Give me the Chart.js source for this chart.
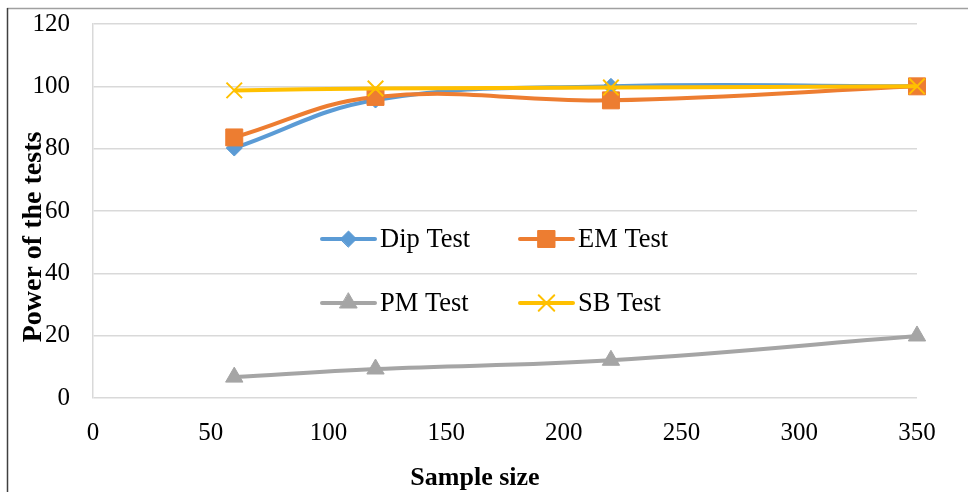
<!DOCTYPE html>
<html>
<head>
<meta charset="utf-8">
<script src="https://cdn.jsdelivr.net/npm/chart.js@4.4.1/dist/chart.umd.min.js"></script>
<style>
html,body{margin:0;padding:0;background:#fff;}
#wrap{width:968px;height:492px;position:relative;}
</style>
</head>
<body>
<div id="wrap"><canvas id="c" width="968" height="492"></canvas></div>
<script>
// ---- data ----
const sampleSizes = [60, 120, 220, 350];
const dipTest = [80.2, 95.6, 100, 100];
const emTest  = [83.6, 96.6, 95.5, 100];
const pmTest  = [6.7, 9.3, 12.1, 19.9];
const sbTest  = [98.7, 99.3, 99.6, 100];
const seriesNames = ['Dip Test', 'EM Test', 'PM Test', 'SB Test'];
const xTicks = [0, 50, 100, 150, 200, 250, 300, 350];
const yTicks = [0, 20, 40, 60, 80, 100, 120];
const xTitle = 'Sample size';
const yTitle = 'Power of the tests';

const colors = ['#5B9BD5', '#ED7D31', '#A5A5A5', '#FFC000'];
const styles = ['rectRot', 'rect', 'triangle', 'crossRot'];
const radii = [8, 12, 10, 11];

function pts(vals){ return sampleSizes.map((x,i)=>({x:x, y:vals[i]})); }
const allVals = [dipTest, emTest, pmTest, sbTest];

const serif = '"Liberation Serif", "Times New Roman", serif';
Chart.defaults.font.family = serif;
Chart.defaults.color = '#000';

const datasets = allVals.map((v,i)=>({
  label: seriesNames[i],
  data: pts(v),
  borderColor: colors[i],
  backgroundColor: colors[i],
  pointBackgroundColor: colors[i],
  pointBorderColor: colors[i],
  pointBorderWidth: styles[i]==='crossRot' ? 2 : 1,
  pointStyle: styles[i],
  pointRadius: radii[i],
  pointHoverRadius: radii[i],
  borderWidth: 4,
  tension: 0.4,
  fill: false,
  clip: false,
  order: 4 - i
}));

const framePlugin = {
  id: 'frame',
  beforeDraw(chart){
    const ctx = chart.ctx;
    ctx.save();
    ctx.fillStyle = '#fff';
    ctx.fillRect(0,0,chart.width,chart.height);
    ctx.strokeStyle = '#a0a0a0';
    ctx.lineWidth = 1.5;
    ctx.beginPath(); ctx.moveTo(7, 8.5); ctx.lineTo(chart.width, 8.5); ctx.stroke();
    ctx.strokeStyle = '#404040';
    ctx.lineWidth = 1.5;
    ctx.beginPath(); ctx.moveTo(7.5, 8); ctx.lineTo(7.5, chart.height); ctx.stroke();
    ctx.restore();
  },
  afterDraw(chart){
    const ctx = chart.ctx;
    ctx.save();
    ctx.fillStyle = '#000';
    ctx.textAlign = 'center';
    ctx.textBaseline = 'middle';
    ctx.font = 'bold 26px ' + serif;
    ctx.fillText(xTitle, 475, 478);
    ctx.textBaseline = 'alphabetic';
    ctx.font = 'bold 28px ' + serif;
    ctx.translate(41, 237);
    ctx.rotate(-Math.PI/2);
    ctx.fillText(yTitle, 0, 0);
    ctx.restore();

    const pos = [[322, 239], [520, 239], [322, 303], [520, 303]];
    ctx.save();
    ctx.font = '26.5px ' + serif;
    ctx.textBaseline = 'middle';
    ctx.textAlign = 'left';
    pos.forEach((p,i)=>{
      const [x,y] = p;
      ctx.strokeStyle = colors[i];
      ctx.lineWidth = 4;
      ctx.lineCap = 'round';
      ctx.beginPath(); ctx.moveTo(x, y); ctx.lineTo(x+53, y); ctx.stroke();
      ctx.fillStyle = colors[i];
      ctx.lineWidth = styles[i]==='crossRot' ? 2 : 1;
      Chart.helpers.drawPoint(ctx, {pointStyle: styles[i], radius: radii[i], borderWidth: ctx.lineWidth, rotation:0}, x+26.5, y);
      ctx.fillStyle = '#000';
      ctx.fillText(seriesNames[i], x+58, y+1);
    });
    ctx.restore();
  }
};

new Chart(document.getElementById('c'), {
  type: 'line',
  data: { datasets },
  options: {
    responsive: false,
    animation: false,
    devicePixelRatio: 1,
    layout: { padding: { left: 0, top: 24, right: 51, bottom: 0 } },
    plugins: { legend: { display: false }, tooltip: { enabled: false } },
    scales: {
      x: {
        type: 'linear',
        min: 0, max: 350,
        afterBuildTicks(s){ s.ticks = xTicks.map(v=>({value:v})); },
        afterFit(s){ s.height = 94; s.paddingLeft = 0; s.paddingRight = 0; },
        grid: { display: false, drawTicks: false },
        border: { display: false },
        ticks: { color: '#000', font: { family: serif, size: 25 }, padding: 20, maxRotation: 0 }
      },
      y: {
        min: 0, max: 120,
        afterBuildTicks(s){ s.ticks = yTicks.map(v=>({value:v})); },
        afterFit(s){ s.width = 93; s.paddingTop = 0; s.paddingBottom = 0; },
        grid: { color: '#d9d9d9', lineWidth: 1.5, drawTicks: false },
        border: { display: true, color: '#d9d9d9', width: 1.5 },
        ticks: { color: '#000', font: { family: serif, size: 25 }, padding: 23 }
      }
    }
  },
  plugins: [framePlugin]
});
</script>
</body>
</html>
